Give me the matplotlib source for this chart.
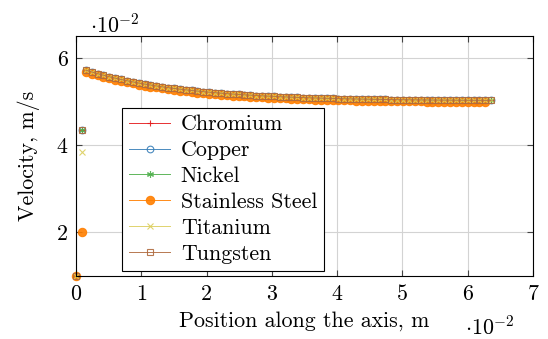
import numpy as np
import matplotlib
matplotlib.use("Agg")
import matplotlib.pyplot as plt
from matplotlib.ticker import FuncFormatter

plt.rcParams["font.family"] = "serif"
plt.rcParams["font.serif"] = ["cmr10"]
plt.rcParams["mathtext.fontset"] = "cm"
plt.rcParams["axes.unicode_minus"] = False
plt.rcParams["axes.formatter.use_mathtext"] = True

FS = 15.8

# positions and velocities in units of 1e-2 (m, m/s)
start_x = [0.0, 0.09]
curve_x = [0.15, 0.24, 0.33, 0.42, 0.51, 0.60, 0.69, 0.78, 0.87, 0.96,
           1.05, 1.14, 1.23, 1.32, 1.41, 1.50, 1.59, 1.68, 1.77, 1.86,
           1.95, 2.04, 2.13, 2.22, 2.31, 2.40, 2.49, 2.58, 2.67, 2.76,
           2.85, 2.94, 3.03, 3.12, 3.21, 3.30, 3.39, 3.48, 3.57, 3.66,
           3.75, 3.84, 3.93, 4.02, 4.11, 4.20, 4.29, 4.38, 4.47, 4.56,
           4.65, 4.74, 4.83, 4.92, 5.01, 5.10, 5.19, 5.28, 5.37, 5.46,
           5.55, 5.64, 5.73, 5.82, 5.91, 6.00, 6.09, 6.18, 6.27, 6.36]
curve_v = [5.726, 5.685, 5.646, 5.610, 5.575, 5.543, 5.512, 5.484, 5.457, 5.431,
           5.407, 5.385, 5.364, 5.344, 5.325, 5.307, 5.290, 5.275, 5.260, 5.246,
           5.233, 5.220, 5.209, 5.198, 5.187, 5.178, 5.168, 5.160, 5.152, 5.144,
           5.137, 5.130, 5.124, 5.117, 5.112, 5.106, 5.101, 5.097, 5.092, 5.088,
           5.084, 5.080, 5.077, 5.074, 5.070, 5.067, 5.065, 5.062, 5.060, 5.057,
           5.055, 5.053, 5.051, 5.049, 5.048, 5.046, 5.045, 5.043, 5.042, 5.040,
           5.039, 5.038, 5.037, 5.036, 5.035, 5.034, 5.033, 5.033, 5.032, 5.031]
steel_v = [5.690, 5.649, 5.610, 5.574, 5.539, 5.507, 5.476, 5.448, 5.421, 5.395,
           5.371, 5.349, 5.328, 5.308, 5.289, 5.271, 5.254, 5.239, 5.224, 5.210,
           5.197, 5.184, 5.173, 5.162, 5.151, 5.142, 5.132, 5.124, 5.116, 5.108,
           5.101, 5.094, 5.088, 5.081, 5.076, 5.070, 5.065, 5.061, 5.056, 5.052,
           5.048, 5.044, 5.041, 5.038, 5.034, 5.031, 5.029, 5.026, 5.024, 5.021,
           5.019, 5.017, 5.015, 5.013, 5.012, 5.010, 5.009, 5.007, 5.006, 5.004,
           5.003, 5.002, 5.001, 5.000, 4.999, 4.998, 4.997, 4.997, 4.996]

materials = ["Chromium", "Copper", "Nickel", "Stainless Steel", "Titanium", "Tungsten"]
start_v = {
    "Chromium": [1.0, 4.35],
    "Copper": [1.0, 4.35],
    "Nickel": [1.0, 4.35],
    "Stainless Steel": [1.0, 2.0],
    "Titanium": [1.0, 3.85],
    "Tungsten": [1.0, 4.35],
}
curves = {
    "Chromium": curve_v,
    "Copper": curve_v,
    "Nickel": curve_v,
    "Stainless Steel": steel_v,
    "Titanium": curve_v,
    "Tungsten": curve_v,
}

styles = {
    "Chromium": dict(color="#e41a1c", marker="+", mfc="none", ms=5),
    "Copper": dict(color="#377eb8", marker="o", mfc="none", ms=4.8),
    "Nickel": dict(color="#4daf4a", marker=(6, 2, 0), mfc="none", ms=5),
    "Stainless Steel": dict(color="#ff7f00", marker="o", mfc="#ff7f00", ms=6),
    "Titanium": dict(color="#dccf5e", marker="x", mfc="none", ms=4),
    "Tungsten": dict(color="#b06a3e", marker="s", mfc="none", ms=5),
}

fig = plt.figure(figsize=(5.48, 3.39), dpi=100)
ax = fig.add_axes([0.1387, 0.1858, 0.8339, 0.708])

S = 1e-2
handles = []
for name in materials:
    st = styles[name]
    xs = np.array(curve_x[:len(curves[name])]) * S
    vs = np.array(curves[name]) * S
    h, = ax.plot(xs, vs, lw=0.7, mew=0.8, alpha=0.9, label=name, **st)
    ax.plot(np.array(start_x) * S, np.array(start_v[name]) * S,
            ls="none", mew=0.8, alpha=0.9, clip_on=False, **st)
    handles.append(h)

ax.set_xlim(0, 0.07)
ax.set_ylim(0.01, 0.0651)
ax.set_xticks(np.arange(0, 8) * S)
ax.set_yticks([0.02, 0.04, 0.06])
fmt = FuncFormatter(lambda v, p: "%d" % round(v / S))
ax.xaxis.set_major_formatter(fmt)
ax.yaxis.set_major_formatter(fmt)
ax.grid(True, color="#d3d3d3", lw=0.8)
ax.set_axisbelow(True)
ax.tick_params(direction="in", length=4, width=0.8, color="#444444",
               top=True, right=True, labelsize=FS, pad=6)
for sp in ax.spines.values():
    sp.set_linewidth(0.8)

ax.set_xlabel("Position along the axis, m", fontsize=FS, labelpad=5)
ax.set_ylabel("Velocity, m/s", fontsize=FS, labelpad=12)
fig.text(90 / 548, 1 - 25 / 339, r"$\cdot 10^{-2}$", fontsize=FS, va="center", ha="left")
fig.text(465 / 548, 1 - 327 / 339, r"$\cdot 10^{-2}$", fontsize=FS, va="center", ha="left")

leg = ax.legend(handles=handles, loc="lower left", bbox_to_anchor=(0.1007, 0.0208),
                fontsize=FS, frameon=True, fancybox=False, framealpha=1,
                edgecolor="black", handlelength=1.85, labelspacing=0.29,
                borderpad=0.33, handletextpad=0.5, borderaxespad=0)
leg.get_frame().set_linewidth(0.8)

fig.savefig("out.png", dpi=100)
